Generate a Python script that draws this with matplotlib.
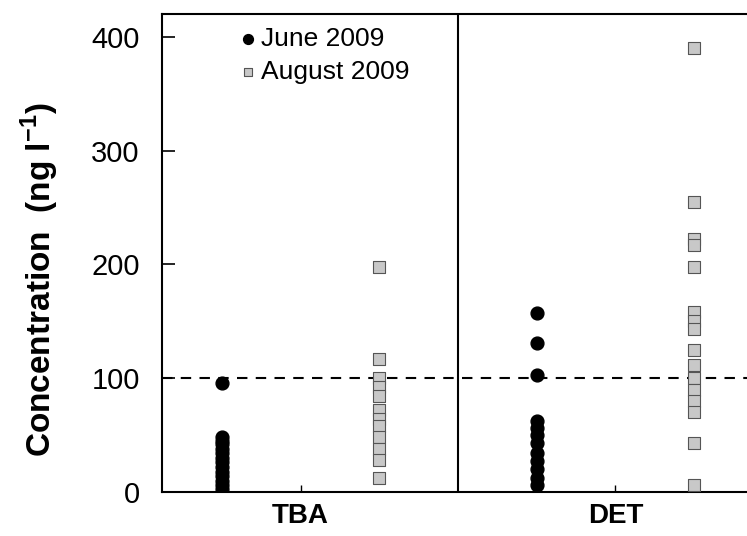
import matplotlib.pyplot as plt
import matplotlib as mpl

mpl.rcParams['font.family'] = ['Liberation Sans', 'DejaVu Sans']
mpl.rcParams['mathtext.fontset'] = 'custom'
mpl.rcParams['mathtext.bf'] = 'Liberation Sans:bold'
mpl.rcParams['mathtext.rm'] = 'Liberation Sans'

# data (ng/l)
compounds = ['TBA', 'DET']
tba_june = [96, 48, 45, 42, 38, 34, 30, 26, 22, 18, 14, 10, 6, 3]
tba_aug = [198, 117, 100, 92, 84, 72, 64, 58, 48, 38, 28, 12]
det_june = [157, 131, 103, 62, 56, 50, 43, 34, 27, 20, 12, 6]
det_aug = [390, 255, 222, 217, 198, 158, 150, 143, 125, 112, 100, 90, 80, 70, 43, 6]
threshold = 100

fig = plt.figure(figsize=(7.47, 5.36), dpi=100)
ax = fig.add_axes([162 / 747, 44 / 536, 592 / 747, 478 / 536])

june_style = dict(marker='o', s=85, color='black', zorder=3)
aug_style = dict(marker='s', s=80, facecolor='#c8c8c8', edgecolor='#555555',
                 linewidth=0.8, zorder=3)

ax.scatter([1] * len(tba_june), tba_june, **june_style)
ax.scatter([3] * len(det_june), det_june, **june_style)
ax.scatter([2] * len(tba_aug), tba_aug, **aug_style)
ax.scatter([4] * len(det_aug), det_aug, **aug_style)

# 100 ng/l line and divider between compounds
ax.axhline(threshold, color='black', linestyle=(0, (5, 4)), linewidth=1.5, zorder=2)
ax.axvline(2.5, color='black', linewidth=1.5)

ax.set_xlim(0.62, 4.38)
ax.set_ylim(0, 420)
ax.set_yticks([0, 100, 200, 300, 400])
ax.set_xticks([1.5, 3.5])
ax.set_xticklabels(compounds, fontsize=20, fontweight='bold')
ax.tick_params(axis='y', direction='in', length=9, width=1.2, labelsize=21, pad=16)
ax.tick_params(axis='x', direction='in', length=5, width=1, pad=8)
for sp in ax.spines.values():
    sp.set_linewidth(1.5)

ax.set_ylabel(r'Concentration  (ng l$^{\mathbf{-1}}$)', fontsize=24, fontweight='bold',
              va='center')
ax.yaxis.set_label_coords(-0.207, 0.444)

# legend
ax.scatter([], [], label='June 2009', marker='o', s=50, color='black')
ax.scatter([], [], label='August 2009', marker='s', s=40, facecolor='#c8c8c8',
           edgecolor='#555555', linewidth=0.8)
ax.legend(loc='upper left', bbox_to_anchor=(0.087, 1.012), frameon=False, fontsize=19,
          handletextpad=-0.1, labelspacing=0.35, borderaxespad=0.3, handlelength=1.2)

plt.savefig('out.png', dpi=100)
plt.close()
